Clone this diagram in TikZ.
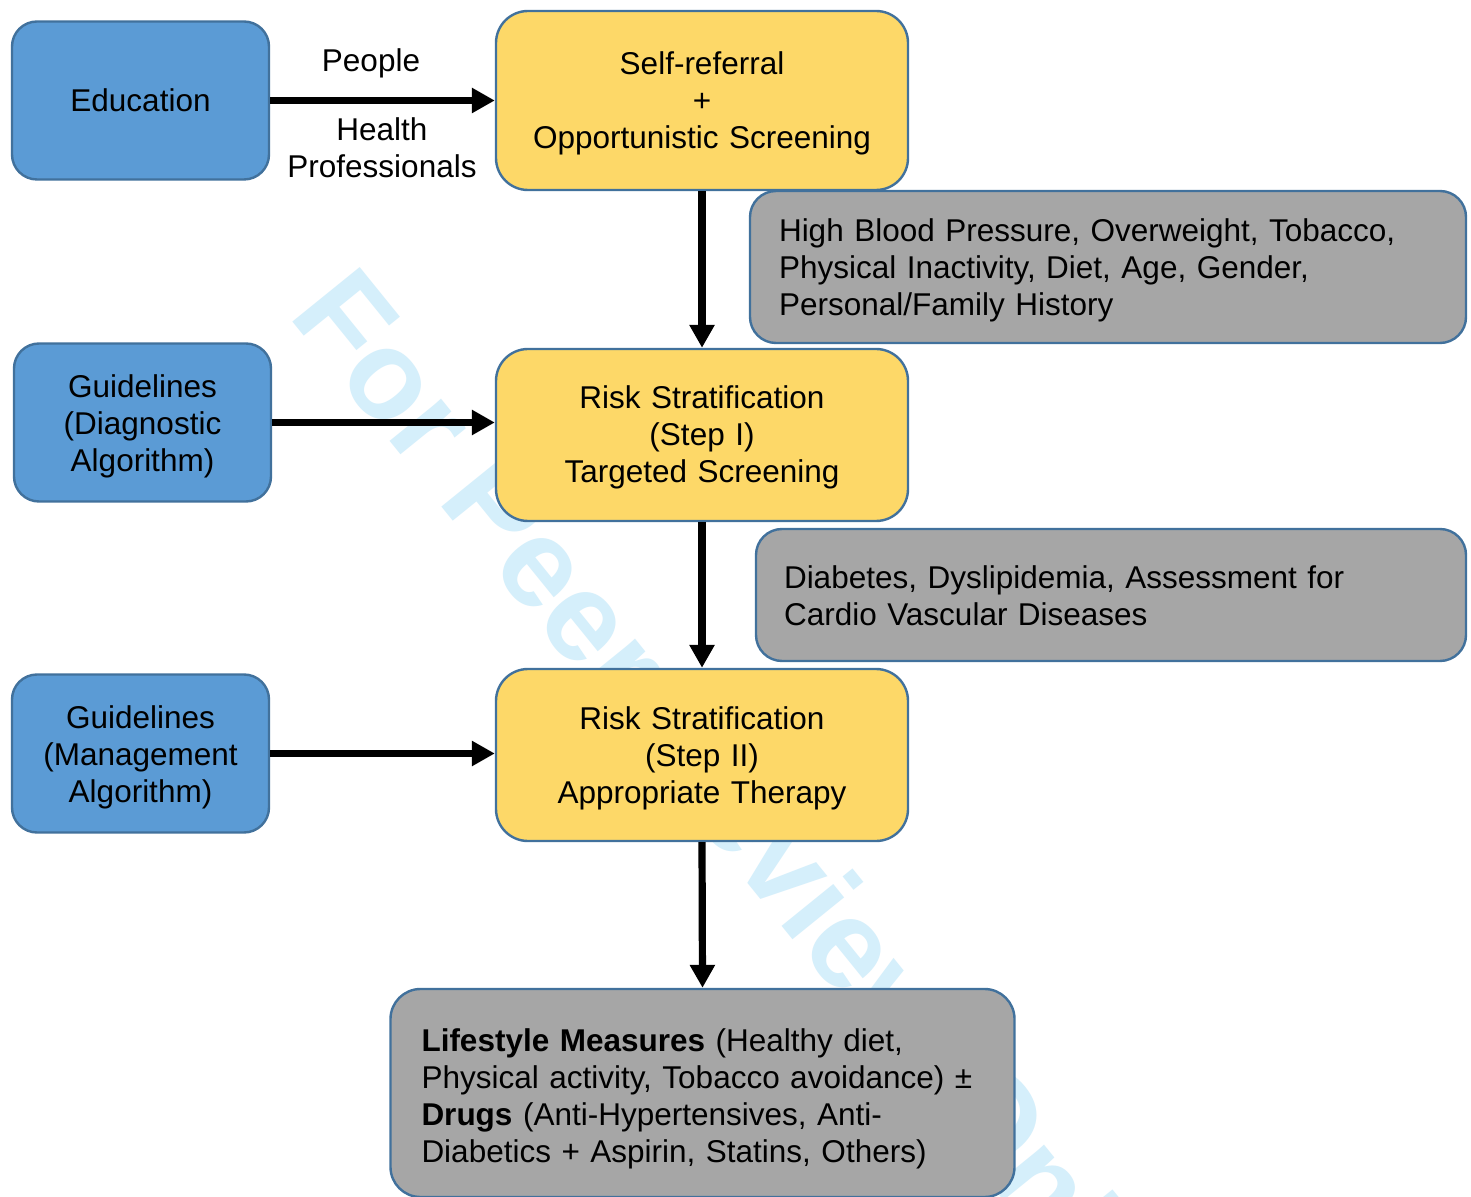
\documentclass[tikz,border=0pt]{standalone}
\usepackage{fontspec}
\setmainfont{Liberation Sans}
\usetikzlibrary{arrows.meta}

\definecolor{boxblue}{HTML}{5B9BD5}
\definecolor{boxyellow}{HTML}{FDD868}
\definecolor{boxgray}{HTML}{A6A6A6}
\definecolor{edgeblue}{HTML}{41719C}
\definecolor{markblue}{HTML}{D5EFFB}

\tikzset{
  txt/.style={font=\fontsize{15.75}{18.5}\selectfont},
  % fixed first-line height and last-line depth keep the lines evenly centred
  evenlines/.style={
    execute at begin node={\rule{0pt}{#1}},
    execute at end node={\rule[-4pt]{0pt}{4pt}}},
  evenlines/.default=15pt,
  box/.style={txt, draw=edgeblue, line width=1.2pt, inner sep=0pt, align=center, evenlines},
  bluebox/.style={box, fill=boxblue, rounded corners=12.5pt, text width=120pt,
    inner xsep=4.25pt, minimum height=79pt},
  yellowbox/.style={box, evenlines=15pt, fill=boxyellow, rounded corners=16pt,
    text width=190pt, inner xsep=8pt},
  graybox/.style={box, fill=boxgray, rounded corners=13pt, align=left},
  flow/.style={line width=3.6pt, -{Triangle[length=11.5pt, width=12pt]}},
}

\begin{document}
\begin{tikzpicture}[x=0.5pt, y=-0.5pt]
  \clip (0,0) rectangle (1471,1197);
  \fill[white] (0,0) rectangle (1471,1197);

  % review watermark, behind everything
  \node[text=markblue, font=\fontsize{63}{63}\selectfont\bfseries,
        inner sep=0pt, anchor=base west, rotate=-51] (mark) at (287,315)
        {For Peer Review Only};

  % left column: inputs
  \node[bluebox] (edu)  at (140.5,100.5) {Education};
  \node[bluebox, evenlines=16pt] (gdia) at (142.5,422.5) {Guidelines\\(Diagnostic\\Algorithm)};
  \node[bluebox, evenlines=16pt] (gman) at (140.5,753.5) {Guidelines\\(Management\\Algorithm)};

  % centre column: screening steps
  \node[yellowbox, minimum height=89.5pt] (self)  at (702,100.5)
    {Self-referral\\+\\Opportunistic Screening};
  \node[yellowbox, minimum height=86pt] (step1) at (702,435)
    {Risk Stratification\\(Step I)\\Targeted Screening};
  \node[yellowbox, minimum height=86pt] (step2) at (702,755)
    {Risk Stratification\\(Step II)\\Appropriate Therapy};

  % right column: risk factors
  \node[graybox, evenlines=16pt, text width=329pt, inner xsep=14.5pt, minimum height=76pt] (risk1)
    at (1108,267)
    {High Blood Pressure, Overweight, Tobacco,\\Physical Inactivity, Diet, Age, Gender,\\Personal/Family History};
  \node[graybox, evenlines=16pt, text width=327pt, inner xsep=14pt, minimum height=66pt] (risk2)
    at (1111,595)
    {Diabetes, Dyslipidemia, Assessment for\\Cardio Vascular Diseases};

  % outcome
  \node[graybox, evenlines=17.5pt, rounded corners=15pt, text width=281pt, inner xsep=15.5pt,
        minimum height=104pt] (treat) at (702.5,1093)
    {\textbf{Lifestyle Measures} (Healthy diet,\\Physical activity, Tobacco avoidance) \char"00B1\\\textbf{Drugs} (Anti-Hypertensives, Anti-\\Diabetics + Aspirin, Statins, Others)};

  % connectors
  \draw[flow] (edu.east)  -- (self.west);
  \draw[flow] (gdia.east) -- (gdia.east -| step1.west);
  \draw[flow] (gman.east) -- (gman.east -| step2.west);
  \draw[flow] (self.south)  -- (step1.north);
  \draw[flow] (step1.south) -- (step2.north);
  \draw[flow] (step2.south) -- (treat.north);

  % arrow labels
  \node[txt] (lblpeople) at (371,63) {People};
  \node[txt, align=center] (lblhealth) at (382,147.5) {Health\\Professionals};
\end{tikzpicture}
\end{document}
